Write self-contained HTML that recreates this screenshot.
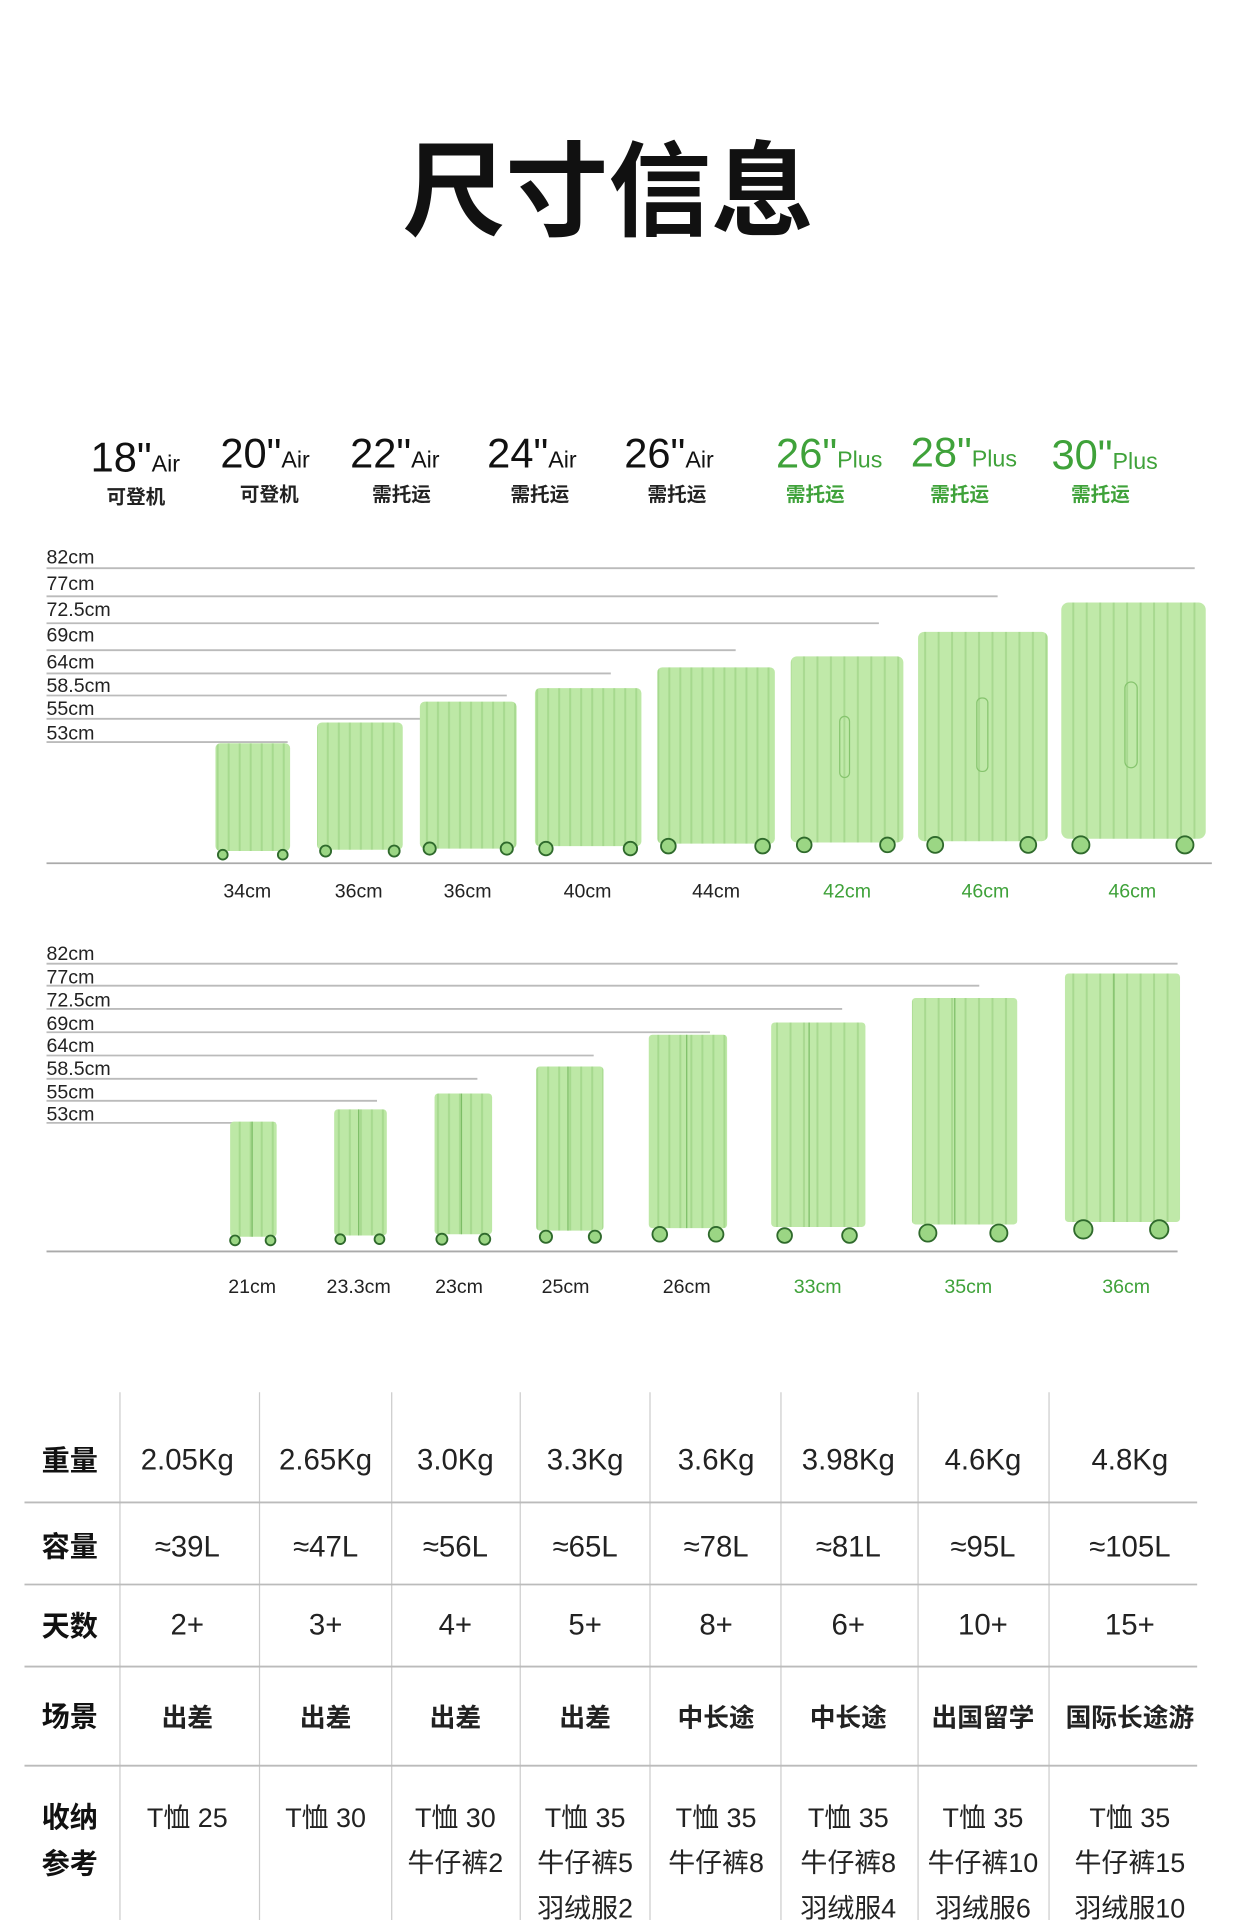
<!DOCTYPE html>
<html><head><meta charset="utf-8"><style>
html,body{margin:0;padding:0;background:#fff;}
svg{display:block;}
text{font-family:"Liberation Sans","Noto Sans CJK SC",sans-serif;}
</style></head><body>
<svg width="1240" height="1920" viewBox="0 0 1013 1568" preserveAspectRatio="none" xmlns="http://www.w3.org/2000/svg">
<defs>
<pattern id="st" width="9" height="10" patternUnits="userSpaceOnUse"><rect width="9" height="10" fill="#bde8a6"/><rect x="6" width="1.6" height="10" fill="#a6d98e"/></pattern>
<pattern id="st2" width="11" height="10" patternUnits="userSpaceOnUse"><rect width="11" height="10" fill="#c0e9a9"/><rect x="7" width="1.6" height="10" fill="#a8d990"/></pattern>
</defs>
<rect width="1013" height="1568" fill="#fff"/>
<text x="497" y="186" font-size="84" font-weight="bold" text-anchor="middle" fill="#111">尺寸信息</text>

<g font-size="34" fill="#111">
<text x="74" y="385">18"<tspan font-size="19">Air</tspan></text>
<text x="180" y="382">20"<tspan font-size="19">Air</tspan></text>
<text x="286" y="382">22"<tspan font-size="19">Air</tspan></text>
<text x="398" y="382">24"<tspan font-size="19">Air</tspan></text>
<text x="510" y="382">26"<tspan font-size="19">Air</tspan></text>
<g fill="#3fa23a"><text x="634" y="382">26"<tspan font-size="19">Plus</tspan></text>
<text x="744" y="381">28"<tspan font-size="19">Plus</tspan></text>
<text x="859" y="383">30"<tspan font-size="19">Plus</tspan></text></g>
</g>
<g font-size="16" fill="#222" text-anchor="middle" font-weight="bold">
<text x="111" y="411">可登机</text><text x="220" y="409">可登机</text><text x="328" y="409">需托运</text>
<text x="441" y="409">需托运</text><text x="553" y="409">需托运</text>
<g fill="#3fa23a"><text x="666" y="409">需托运</text><text x="784" y="409">需托运</text><text x="899" y="409">需托运</text></g>
</g>

<!-- chart 1 -->
<g font-size="16" fill="#222">
<text x="38" y="460">82cm</text><text x="38" y="482">77cm</text><text x="38" y="503">72.5cm</text><text x="38" y="524">69cm</text>
<text x="38" y="546">64cm</text><text x="38" y="565">58.5cm</text><text x="38" y="584">55cm</text><text x="38" y="604">53cm</text>
</g>
<g stroke="#bbb" stroke-width="1.5">
<line x1="38" y1="464" x2="976" y2="464"/><line x1="38" y1="487" x2="815" y2="487"/><line x1="38" y1="509" x2="718" y2="509"/>
<line x1="38" y1="531" x2="601" y2="531"/><line x1="38" y1="550" x2="499" y2="550"/><line x1="38" y1="568" x2="414" y2="568"/>
<line x1="38" y1="587" x2="345" y2="587"/><line x1="38" y1="606" x2="235" y2="606"/>
<line x1="38" y1="705" x2="990" y2="705" stroke="#aaa"/>
</g>
<g>
<g><rect x="176" y="607" width="61" height="88" rx="4" fill="url(#st)"/><circle cx="182" cy="698" r="4" fill="#9bd684" stroke="#2f6a2c" stroke-width="1.5"/><circle cx="231" cy="698" r="4" fill="#9bd684" stroke="#2f6a2c" stroke-width="1.5"/></g>
<g><rect x="259" y="590" width="70" height="104" rx="4" fill="url(#st)"/><circle cx="266" cy="695" r="4.5" fill="#9bd684" stroke="#2f6a2c" stroke-width="1.5"/><circle cx="322" cy="695" r="4.5" fill="#9bd684" stroke="#2f6a2c" stroke-width="1.5"/></g>
<g><rect x="343" y="573" width="79" height="120" rx="4" fill="url(#st)"/><circle cx="351" cy="693" r="5" fill="#9bd684" stroke="#2f6a2c" stroke-width="1.5"/><circle cx="414" cy="693" r="5" fill="#9bd684" stroke="#2f6a2c" stroke-width="1.5"/></g>
<g><rect x="437" y="562" width="87" height="129" rx="4" fill="url(#st)"/><circle cx="446" cy="693" r="5.5" fill="#9bd684" stroke="#2f6a2c" stroke-width="1.5"/><circle cx="515" cy="693" r="5.5" fill="#9bd684" stroke="#2f6a2c" stroke-width="1.5"/></g>
<g><rect x="537" y="545" width="96" height="144" rx="4" fill="url(#st)"/><circle cx="546" cy="691" r="6" fill="#9bd684" stroke="#2f6a2c" stroke-width="1.5"/><circle cx="623" cy="691" r="6" fill="#9bd684" stroke="#2f6a2c" stroke-width="1.5"/></g>
<g><rect x="646" y="536" width="92" height="152" rx="5" fill="url(#st2)"/><rect x="686" y="585" width="8" height="50" rx="4" fill="none" stroke="#86c46e"/><circle cx="657" cy="690" r="6" fill="#9bd684" stroke="#2f6a2c" stroke-width="1.5"/><circle cx="725" cy="690" r="6" fill="#9bd684" stroke="#2f6a2c" stroke-width="1.5"/></g>
<g><rect x="750" y="516" width="106" height="171" rx="5" fill="url(#st2)"/><rect x="798" y="570" width="9" height="60" rx="4" fill="none" stroke="#86c46e"/><circle cx="764" cy="690" r="6.5" fill="#9bd684" stroke="#2f6a2c" stroke-width="1.5"/><circle cx="840" cy="690" r="6.5" fill="#9bd684" stroke="#2f6a2c" stroke-width="1.5"/></g>
<g><rect x="867" y="492" width="118" height="193" rx="6" fill="url(#st2)"/><rect x="919" y="557" width="10" height="70" rx="5" fill="none" stroke="#86c46e"/><circle cx="883" cy="690" r="7" fill="#9bd684" stroke="#2f6a2c" stroke-width="1.5"/><circle cx="968" cy="690" r="7" fill="#9bd684" stroke="#2f6a2c" stroke-width="1.5"/></g>
</g>
<g font-size="16" fill="#222" text-anchor="middle">
<text x="202" y="733">34cm</text><text x="293" y="733">36cm</text><text x="382" y="733">36cm</text><text x="480" y="733">40cm</text><text x="585" y="733">44cm</text>
<g fill="#3fa23a"><text x="692" y="733">42cm</text><text x="805" y="733">46cm</text><text x="925" y="733">46cm</text></g>
</g>

<!-- chart 2 -->
<g font-size="16" fill="#222">
<text x="38" y="784">82cm</text><text x="38" y="803">77cm</text><text x="38" y="822">72.5cm</text><text x="38" y="841">69cm</text>
<text x="38" y="859">64cm</text><text x="38" y="878">58.5cm</text><text x="38" y="897">55cm</text><text x="38" y="915">53cm</text>
</g>
<g stroke="#bbb" stroke-width="1.5">
<line x1="38" y1="787" x2="962" y2="787"/><line x1="38" y1="805" x2="800" y2="805"/><line x1="38" y1="824" x2="688" y2="824"/>
<line x1="38" y1="843" x2="580" y2="843"/><line x1="38" y1="862" x2="485" y2="862"/><line x1="38" y1="881" x2="390" y2="881"/>
<line x1="38" y1="899" x2="308" y2="899"/><line x1="38" y1="917" x2="225" y2="917"/>
<line x1="38" y1="1022" x2="962" y2="1022" stroke="#aaa"/>
</g>
<g>
<g><rect x="188" y="916" width="38" height="94" rx="3" fill="url(#st)"/><line x1="206" y1="916" x2="206" y2="1010" stroke="#7cbd66"/><circle cx="192" cy="1013" r="4" fill="#9bd684" stroke="#2f6a2c" stroke-width="1.5"/><circle cx="221" cy="1013" r="4" fill="#9bd684" stroke="#2f6a2c" stroke-width="1.5"/></g>
<g><rect x="273" y="906" width="43" height="103" rx="3" fill="url(#st)"/><line x1="293" y1="906" x2="293" y2="1009" stroke="#7cbd66"/><circle cx="278" cy="1012" r="4" fill="#9bd684" stroke="#2f6a2c" stroke-width="1.5"/><circle cx="310" cy="1012" r="4" fill="#9bd684" stroke="#2f6a2c" stroke-width="1.5"/></g>
<g><rect x="355" y="893" width="47" height="115" rx="3" fill="url(#st)"/><line x1="377" y1="893" x2="377" y2="1008" stroke="#7cbd66"/><circle cx="361" cy="1012" r="4.5" fill="#9bd684" stroke="#2f6a2c" stroke-width="1.5"/><circle cx="396" cy="1012" r="4.5" fill="#9bd684" stroke="#2f6a2c" stroke-width="1.5"/></g>
<g><rect x="438" y="871" width="55" height="134" rx="3" fill="url(#st)"/><line x1="464" y1="871" x2="464" y2="1005" stroke="#7cbd66"/><circle cx="446" cy="1010" r="5" fill="#9bd684" stroke="#2f6a2c" stroke-width="1.5"/><circle cx="486" cy="1010" r="5" fill="#9bd684" stroke="#2f6a2c" stroke-width="1.5"/></g>
<g><rect x="530" y="845" width="64" height="158" rx="3" fill="url(#st)"/><line x1="561" y1="845" x2="561" y2="1003" stroke="#7cbd66"/><circle cx="539" cy="1008" r="6" fill="#9bd684" stroke="#2f6a2c" stroke-width="1.5"/><circle cx="585" cy="1008" r="6" fill="#9bd684" stroke="#2f6a2c" stroke-width="1.5"/></g>
<g><rect x="630" y="835" width="77" height="167" rx="3" fill="url(#st2)"/><line x1="661" y1="835" x2="661" y2="1002" stroke="#7cbd66"/><circle cx="641" cy="1009" r="6" fill="#9bd684" stroke="#2f6a2c" stroke-width="1.5"/><circle cx="694" cy="1009" r="6" fill="#9bd684" stroke="#2f6a2c" stroke-width="1.5"/></g>
<g><rect x="745" y="815" width="86" height="185" rx="3" fill="url(#st2)"/><line x1="780" y1="815" x2="780" y2="1000" stroke="#7cbd66"/><circle cx="758" cy="1007" r="7" fill="#9bd684" stroke="#2f6a2c" stroke-width="1.5"/><circle cx="816" cy="1007" r="7" fill="#9bd684" stroke="#2f6a2c" stroke-width="1.5"/></g>
<g><rect x="870" y="795" width="94" height="203" rx="3" fill="url(#st2)"/><line x1="910" y1="795" x2="910" y2="998" stroke="#7cbd66"/><circle cx="885" cy="1004" r="7.5" fill="#9bd684" stroke="#2f6a2c" stroke-width="1.5"/><circle cx="947" cy="1004" r="7.5" fill="#9bd684" stroke="#2f6a2c" stroke-width="1.5"/></g>
</g>
<g font-size="16" fill="#222" text-anchor="middle">
<text x="206" y="1056">21cm</text><text x="293" y="1056">23.3cm</text><text x="375" y="1056">23cm</text><text x="462" y="1056">25cm</text><text x="561" y="1056">26cm</text>
<g fill="#3fa23a"><text x="668" y="1056">33cm</text><text x="791" y="1056">35cm</text><text x="920" y="1056">36cm</text></g>
</g>

<!-- table -->
<g stroke="#ccc" stroke-width="1">
<line x1="98" y1="1137" x2="98" y2="1568"/><line x1="212" y1="1137" x2="212" y2="1568"/><line x1="320" y1="1137" x2="320" y2="1568"/>
<line x1="425" y1="1137" x2="425" y2="1568"/><line x1="531" y1="1137" x2="531" y2="1568"/><line x1="638" y1="1137" x2="638" y2="1568"/>
<line x1="750" y1="1137" x2="750" y2="1568"/><line x1="857" y1="1137" x2="857" y2="1568"/>
</g>
<g stroke="#bbb" stroke-width="1.5">
<line x1="20" y1="1227" x2="978" y2="1227"/><line x1="20" y1="1294" x2="978" y2="1294"/>
<line x1="20" y1="1361" x2="978" y2="1361"/><line x1="20" y1="1442" x2="978" y2="1442"/>
</g>
<g font-size="23" fill="#111" font-weight="bold" text-anchor="middle">
<text x="57" y="1201">重量</text><text x="57" y="1271">容量</text><text x="57" y="1336">天数</text><text x="57" y="1410">场景</text>
<text x="57" y="1492">收纳</text><text x="57" y="1530">参考</text>
</g>
<g font-size="24" fill="#222" text-anchor="middle">
<text x="153" y="1200">2.05Kg</text><text x="266" y="1200">2.65Kg</text><text x="372" y="1200">3.0Kg</text><text x="478" y="1200">3.3Kg</text>
<text x="585" y="1200">3.6Kg</text><text x="693" y="1200">3.98Kg</text><text x="803" y="1200">4.6Kg</text><text x="923" y="1200">4.8Kg</text>
<text x="153" y="1271">≈39L</text><text x="266" y="1271">≈47L</text><text x="372" y="1271">≈56L</text><text x="478" y="1271">≈65L</text>
<text x="585" y="1271">≈78L</text><text x="693" y="1271">≈81L</text><text x="803" y="1271">≈95L</text><text x="923" y="1271">≈105L</text>
<text x="153" y="1335">2+</text><text x="266" y="1335">3+</text><text x="372" y="1335">4+</text><text x="478" y="1335">5+</text>
<text x="585" y="1335">8+</text><text x="693" y="1335">6+</text><text x="803" y="1335">10+</text><text x="923" y="1335">15+</text>
</g>
<g font-size="21" fill="#222" text-anchor="middle" font-weight="bold">
<text x="153" y="1410">出差</text><text x="266" y="1410">出差</text><text x="372" y="1410">出差</text><text x="478" y="1410">出差</text>
<text x="585" y="1410">中长途</text><text x="693" y="1410">中长途</text><text x="803" y="1410">出国留学</text><text x="923" y="1410">国际长途游</text>
</g>
<g font-size="22" fill="#222" text-anchor="middle">
<text x="153" y="1492">T恤 25</text><text x="266" y="1492">T恤 30</text><text x="372" y="1492">T恤 30</text><text x="478" y="1492">T恤 35</text>
<text x="585" y="1492">T恤 35</text><text x="693" y="1492">T恤 35</text><text x="803" y="1492">T恤 35</text><text x="923" y="1492">T恤 35</text>
<text x="372" y="1529">牛仔裤2</text><text x="478" y="1529">牛仔裤5</text><text x="585" y="1529">牛仔裤8</text>
<text x="693" y="1529">牛仔裤8</text><text x="803" y="1529">牛仔裤10</text><text x="923" y="1529">牛仔裤15</text>
<text x="478" y="1566">羽绒服2</text><text x="693" y="1566">羽绒服4</text><text x="803" y="1566">羽绒服6</text><text x="923" y="1566">羽绒服10</text>
</g>
</svg>
</body></html>
